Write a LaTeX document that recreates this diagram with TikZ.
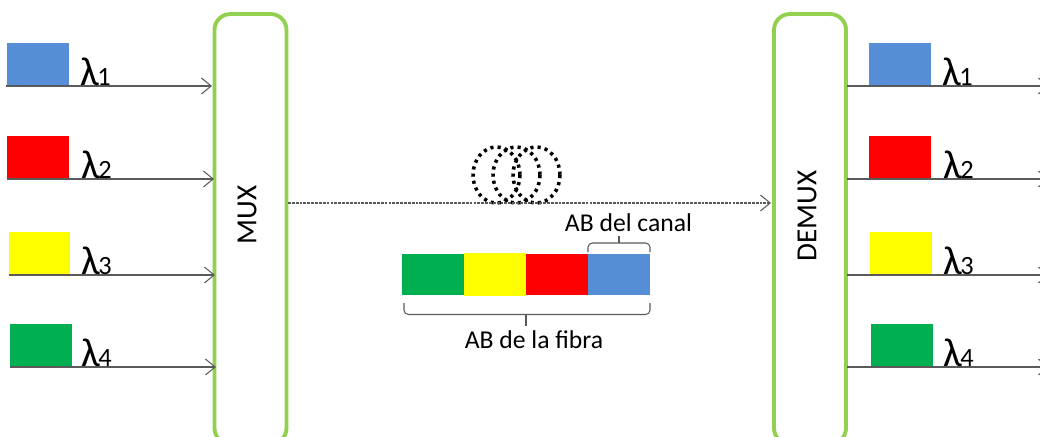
\documentclass[tikz,border=0pt]{standalone}
\usepackage{fontspec}
\setmainfont{Carlito}
\usetikzlibrary{arrows.meta}
\definecolor{chblue}{HTML}{558ED5}
\definecolor{chgreen}{HTML}{00B050}
\definecolor{chyellow}{HTML}{FFFF00}
\definecolor{chred}{HTML}{FF0000}
\definecolor{boxgreen}{HTML}{92D050}
\definecolor{wiregray}{HTML}{5A5A5A}
\tikzset{
	muxbox/.style={draw=boxgreen, line width=2.2pt, rounded corners=9pt, fill=white, minimum width=1.44cm, minimum height=8.6cm, inner sep=0pt},
	chbox/.style={minimum width=1.24cm, minimum height=0.86cm, inner sep=0pt},
	bandbox/.style={minimum width=1.24cm, minimum height=0.82cm, inner sep=0pt},
	wire/.style={draw=wiregray, line width=0.6pt, -{Straight Barb[length=5.5pt,width=9pt]}},
	lam/.style={inner sep=0pt, anchor=base west, font=\fontsize{23}{23}\selectfont},
	coil/.style={draw=black, line width=2pt, dash pattern=on 1.8pt off 2.3pt},
	brc/.style={draw=wiregray, line width=0.6pt, rounded corners=2.5pt},
	lbl/.style={inner sep=0pt, font=\fontsize{14.6}{16}\selectfont},
	muxlbl/.style={inner sep=0pt, rotate=90, font=\fontsize{16.6}{17}\selectfont}
}
\newcommand{\dig}[1]{\kern-1pt\fontsize{15}{15}\selectfont #1}
\begin{document}
\begin{tikzpicture}[x=0.02cm, y=-0.02cm]
	\useasboundingbox (0,0) rectangle (1040,436);
	\clip (0,0) rectangle (1040,436);

	% Mux and demux
	\node[muxbox] (mux) at (250.5,229) {};
	\node[muxbox] (demux) at (810,229) {};
	\node[muxlbl] (muxtext) at (247,215) {MUX};
	\node[muxlbl] (demuxtext) at (807,216) {DEMUX};

	% Channels on the left
	\node[chbox, fill=chblue] (L1) at (38,64.5) {};
	\node[chbox, fill=chred] (L2) at (38,157.5) {};
	\node[chbox, fill=chyellow] (L3) at (39.5,253.5) {};
	\node[chbox, fill=chgreen] (L4) at (41,345.5) {};

	% Channels on the right
	\node[chbox, fill=chblue] (R1) at (900,64.5) {};
	\node[chbox, fill=chred] (R2) at (900,157.5) {};
	\node[chbox, fill=chyellow] (R3) at (901,253.5) {};
	\node[chbox, fill=chgreen] (R4) at (902,345.5) {};

	% Free ends of the wires
	\coordinate (in1) at (6,86);
	\coordinate (in2) at (7,179);
	\coordinate (in3) at (9,275);
	\coordinate (in4) at (10,367);
	\coordinate (out1) at (1049,86);
	\coordinate (out2) at (1049,179);
	\coordinate (out3) at (1049,275);
	\coordinate (out4) at (1049,367);
	\coordinate (mux1) at (212,86);
	\coordinate (mux2) at (214,179);
	\coordinate (mux3) at (215,275);
	\coordinate (mux4) at (216,367);
	\coordinate (dem1) at (847,86);
	\coordinate (dem2) at (847,179);
	\coordinate (dem3) at (847,275);
	\coordinate (dem4) at (847,367);

	% Wires
	\draw[wire] (in1) -- (mux1);
	\draw[wire] (in2) -- (mux2);
	\draw[wire] (in3) -- (mux3);
	\draw[wire] (in4) -- (mux4);
	\draw[wire] (dem1) -- (out1);
	\draw[wire] (dem2) -- (out2);
	\draw[wire] (dem3) -- (out3);
	\draw[wire] (dem4) -- (out4);

	% Wavelength labels
	\node[lam] (lamL1) at (80,85) {λ\dig{1}};
	\node[lam] (lamL2) at (81,178) {λ\dig{2}};
	\node[lam] (lamL3) at (81,274) {λ\dig{3}};
	\node[lam] (lamL4) at (81,366) {λ\dig{4}};
	\node[lam] (lamR1) at (942,85) {λ\dig{1}};
	\node[lam] (lamR2) at (943,178) {λ\dig{2}};
	\node[lam] (lamR3) at (943,274) {λ\dig{3}};
	\node[lam] (lamR4) at (943,366) {λ\dig{4}};

	% Fibre coil
	\draw[coil] (496.5,175) ellipse (23.5 and 28);
	\draw[coil] (516.5,175) ellipse (23.5 and 28);
	\draw[coil] (536.5,175) ellipse (23.5 and 28);

	% Fibre
	\coordinate (fibreA) at (288,203);
	\coordinate (fibreB) at (771,203);
	\draw[wire, dash pattern=on 1.6pt off 0.6pt] (fibreA) -- (fibreB);

	% Band
	\node[bandbox, fill=chgreen] (bandG) at (433,274.5) {};
	\node[bandbox, fill=chyellow, minimum height=0.86cm] (bandY) at (495,274.5) {};
	\node[bandbox, fill=chred] (bandR) at (557,274.5) {};
	\node[bandbox, fill=chblue] (bandB) at (619,274.5) {};

	% Brace over the channel
	\coordinate (topL) at (588,252);
	\coordinate (topM) at (619,243);
	\coordinate (topR) at (650,252);
	\coordinate (topT) at (619,236);
	\draw[brc] (topL) |- (topM) -| (topR);
	\draw[brc] (topM) -- (topT);
	\node[lbl] (canal) at (628.5,223) {AB del canal};

	% Brace under the band
	\coordinate (botL) at (404,303);
	\coordinate (botM) at (526,314.5);
	\coordinate (botR) at (650,303);
	\coordinate (botT) at (526,326);
	\draw[brc] (botL) |- (botM) -| (botR);
	\draw[brc] (botM) -- (botT);
	\node[lbl] (fibra) at (534,340) {AB de la fibra};
\end{tikzpicture}
\end{document}
